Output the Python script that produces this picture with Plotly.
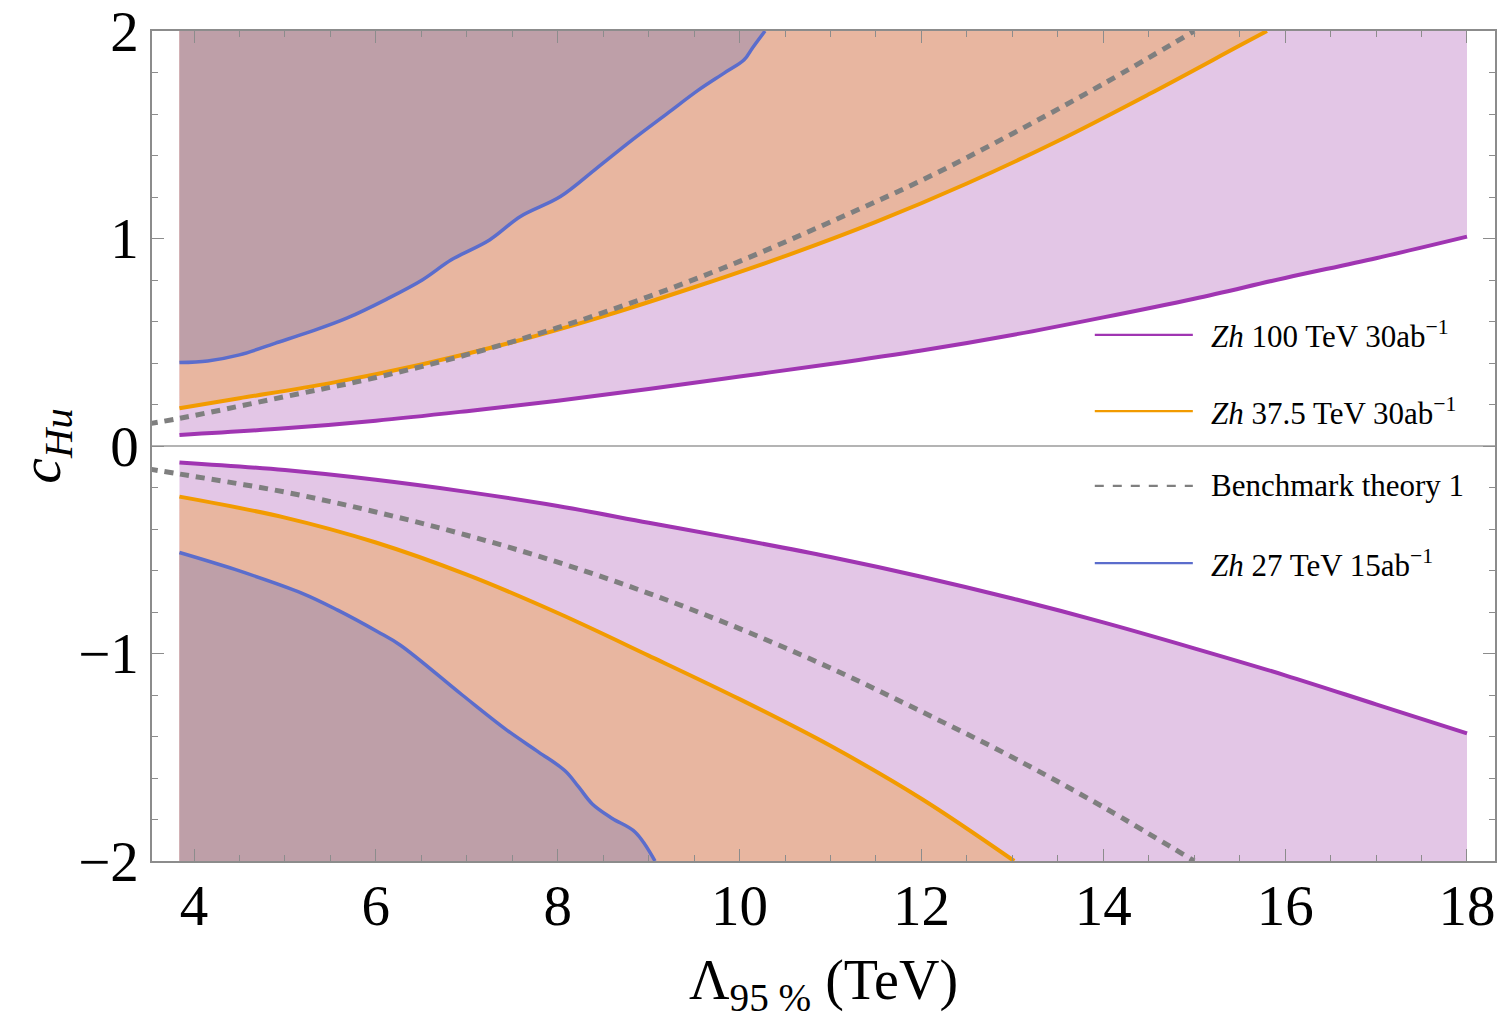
import plotly.graph_objects as go

# ---------------- data ----------------
# Zh 100 TeV 30 ab^-1 (purple)
zh100_up_x = [3.84, 5, 6, 7, 8, 9, 10, 11, 12, 13, 14, 15, 16, 17, 18]
zh100_up_y = [0.053, 0.085, 0.122, 0.168, 0.218, 0.275, 0.335, 0.395, 0.460, 0.535, 0.620, 0.710, 0.810, 0.905, 1.009]
zh100_lo_x = [3.84, 5, 6, 7, 8, 9, 10, 11, 12, 13, 14, 15, 16, 17, 18]
zh100_lo_y = [-0.079, -0.116, -0.163, -0.221, -0.289, -0.370, -0.450, -0.535, -0.630, -0.735, -0.850, -0.975, -1.105, -1.245, -1.385]

# Zh 37.5 TeV 30 ab^-1 (orange)
zh375_up_x = [3.84, 4.5, 5.5, 6.5, 7.5, 8.5, 9.5, 10.5, 11.5, 12.5, 13.5, 14.5, 15.5, 15.8]
zh375_up_y = [0.182, 0.230, 0.303, 0.393, 0.500, 0.625, 0.765, 0.915, 1.080, 1.265, 1.470, 1.695, 1.930, 2.0]
zh375_lo_x = [3.84, 5, 6, 7, 8, 9, 10, 11, 12, 13.02]
zh375_lo_y = [-0.244, -0.345, -0.465, -0.620, -0.805, -1.010, -1.220, -1.445, -1.700, -2.0]

# Benchmark theory 1 (grey dashed)
bench_up_x = [3.5, 3.84, 5, 6, 7, 8, 9, 10, 11, 12, 13, 14, 15]
bench_up_y = [0.107, 0.133, 0.238, 0.330, 0.440, 0.570, 0.720, 0.890, 1.080, 1.280, 1.505, 1.745, 2.0]
bench_lo_x = [3.5, 3.84, 5, 6, 7, 8, 9, 10, 11, 12, 13, 14, 15]
bench_lo_y = [-0.111, -0.135, -0.222, -0.318, -0.430, -0.560, -0.710, -0.880, -1.070, -1.280, -1.500, -1.740, -2.0]

# Zh 27 TeV 15 ab^-1 (blue)
zh27_up_x = [3.84, 4.15, 4.5, 4.89, 5.28, 5.68, 6.12, 6.51, 6.83, 7.25, 7.59, 8.03, 8.43, 8.82, 9.21, 9.55, 9.83, 10.05, 10.14, 10.28]
zh27_up_y = [0.402, 0.410, 0.439, 0.495, 0.551, 0.616, 0.708, 0.800, 0.897, 0.993, 1.106, 1.202, 1.339, 1.475, 1.604, 1.716, 1.797, 1.861, 1.917, 2.0]
zh27_lo_x = [3.84, 4.45, 5.19, 5.58, 6.02, 6.27, 6.95, 7.44, 7.79, 8.08, 8.23, 8.38, 8.60, 8.85, 9.07]
zh27_lo_y = [-0.513, -0.595, -0.710, -0.791, -0.895, -0.960, -1.200, -1.369, -1.475, -1.565, -1.643, -1.725, -1.795, -1.860, -2.0]

x_ticks = [4, 6, 8, 10, 12, 14, 16, 18]
y_ticks = [-2, -1, 0, 1, 2]
y_tick_text = ["−2", "−1", "0", "1", "2"]
legend_labels = ["<i>Zh</i> 100 TeV 30ab<sup>−1</sup>",
                 "<i>Zh</i> 37.5 TeV 30ab<sup>−1</sup>",
                 "Benchmark theory 1",
                 "<i>Zh</i> 27 TeV 15ab<sup>−1</sup>"]

Y_TOP, Y_BOT = 2.0, -2.0

# ---------------- styles ----------------
C_PURPLE = "#A035B2"
C_ORANGE = "#F29B00"
C_BLUE = "#5B6DCC"
C_GREY = "#7F7F7F"
F_PURPLE = "#E3C6E6"
F_ORANGE = "#E8B6A0"
F_BLUE = "#BE9FA8"
FONT = "Liberation Serif"

fig = go.Figure()


def add_band(cx, cy, edge, fillcolor):
    # invisible reference line at the plot edge, then fill curve -> edge
    fig.add_trace(go.Scatter(x=cx, y=[edge] * len(cx), mode="lines",
                             line=dict(width=0, shape="spline", smoothing=1.0), hoverinfo="skip",
                             showlegend=False))
    fig.add_trace(go.Scatter(x=cx, y=cy, mode="lines", fill="tonexty",
                             fillcolor=fillcolor,
                             line=dict(width=0, shape="spline", smoothing=1.0),
                             hoverinfo="skip", showlegend=False))


add_band(zh100_up_x, zh100_up_y, Y_TOP, F_PURPLE)
add_band(zh100_lo_x, zh100_lo_y, Y_BOT, F_PURPLE)
add_band(zh375_up_x, zh375_up_y, Y_TOP, F_ORANGE)
add_band(zh375_lo_x, zh375_lo_y, Y_BOT, F_ORANGE)
add_band(zh27_up_x, zh27_up_y, Y_TOP, F_BLUE)
add_band(zh27_lo_x, zh27_lo_y, Y_BOT, F_BLUE)


def add_line(cx, cy, color, width, dash="solid", name=None):
    fig.add_trace(go.Scatter(x=cx, y=cy, mode="lines", name=name,
                             line=dict(color=color, width=width, dash=dash, shape="spline",
                                       smoothing=1.0),
                             showlegend=False))


add_line(zh100_up_x, zh100_up_y, C_PURPLE, 4, name=legend_labels[0])
add_line(zh100_lo_x, zh100_lo_y, C_PURPLE, 4, name=legend_labels[0])
add_line(zh375_up_x, zh375_up_y, C_ORANGE, 4, name=legend_labels[1])
add_line(zh375_lo_x, zh375_lo_y, C_ORANGE, 4, name=legend_labels[1])
add_line(bench_up_x, bench_up_y, C_GREY, 5, dash="9px,7px", name=legend_labels[2])
add_line(bench_lo_x, bench_lo_y, C_GREY, 5, dash="9px,7px", name=legend_labels[2])
add_line(zh27_up_x, zh27_up_y, C_BLUE, 3.5, name=legend_labels[3])
add_line(zh27_lo_x, zh27_lo_y, C_BLUE, 3.5, name=legend_labels[3])

# ---------------- manual legend (long sample lines like the original) ----------------
leg_colors = [C_PURPLE, C_ORANGE, C_GREY, C_BLUE]
leg_dash = ["solid", "solid", "dash", "solid"]
leg_y = [0.634, 0.542, 0.452, 0.359]
for lab, col, dsh, yy in zip(legend_labels, leg_colors, leg_dash, leg_y):
    fig.add_shape(type="line", xref="paper", yref="paper", x0=0.702, x1=0.775, y0=yy, y1=yy,
                  line=dict(color=col, width=2.2, dash=dsh))
    fig.add_annotation(xref="paper", yref="paper", x=0.787, y=yy, text=lab, showarrow=False,
                       xanchor="left", yanchor="middle",
                       font=dict(family=FONT, size=31, color="black"))

axis_common = dict(showline=True, mirror="allticks", linecolor="#8c8c8c", linewidth=1.5,
                   ticks="inside", tickcolor="#8c8c8c", tickwidth=1.2, ticklen=12,
                   showgrid=False, ticklabeloverflow="allow",
                   tickfont=dict(family=FONT, size=57, color="black"))

fig.update_layout(
    width=1499, height=1013,
    margin=dict(l=144, r=12, t=23, b=160),
    paper_bgcolor="white", plot_bgcolor="white",
    font=dict(family=FONT, color="black"),
    showlegend=False,
    xaxis=dict(range=[3.538, 18.308], tickvals=x_ticks, ticktext=[str(v) for v in x_ticks],
               zeroline=False, ticklabelstandoff=-6, automargin=False,
               minor=dict(dtick=0.5, tick0=0, ticks="inside", ticklen=6, tickcolor="#8c8c8c"),
               title=dict(text="Λ<sub>95 %</sub> (TeV)", font=dict(family=FONT, size=56),
                          standoff=24),
               **axis_common),
    yaxis=dict(range=[-2, 2], tickvals=y_ticks, ticktext=y_tick_text,
               zeroline=True, zerolinecolor="#b4b4b4", zerolinewidth=1.5, ticklabelstandoff=0,
               automargin="left",
               minor=dict(dtick=0.2, tick0=0, ticks="inside", ticklen=6, tickcolor="#8c8c8c"),
               title=dict(text="<i>c</i><sub><i>Hu</i></sub>", font=dict(family=FONT, size=58),
                          standoff=12),
               **axis_common),
)

fig.write_html("out.html")
